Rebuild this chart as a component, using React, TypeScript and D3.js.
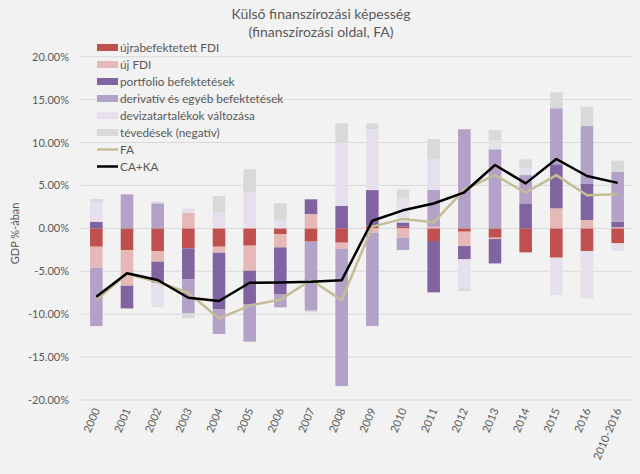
import React from "react";
import * as d3 from "d3";

const categories = ["2000","2001","2002","2003","2004","2005","2006","2007","2008","2009","2010","2011","2012","2013","2014","2015","2016","2010-2016"];

const seriesNames = [
  "újrabefektetett FDI",
  "új FDI",
  "portfolio befektetések",
  "derivatív és egyéb befektetések",
  "devizatartalékok változása",
  "tévedések (negatív)",
];
const seriesColors = ["#C0504D", "#E6B9B8", "#8064A2", "#B3A2C7", "#E6E0EC", "#D9D9D9"];

const reinvestedFDI = [-2.14, -2.53, -2.64, -2.33, -2.14, -2.02, -0.7, -1.55, -1.67, 0.3, 0.19, -1.48, -0.39, -1.09, -2.8, -3.42, -2.64, -1.75];
const newFDI = [-2.45, -4.16, -1.24, 1.82, -0.7, -2.91, -1.52, 1.67, -0.74, -0.51, -1.09, 0.19, -1.67, -0.16, 0, 2.33, 0.97, 0.12];
const portfolio = [0.77, -2.64, -2.45, -3.58, -6.56, -3.88, -5.44, 1.71, 2.6, 4.16, 0.5, -5.98, -1.55, -2.84, 2.91, 5.13, 4.2, 0.66];
const derivative = [-6.8, 3.96, 2.91, -4.0, -2.91, -4.39, -1.55, -8.04, -15.97, -10.87, -1.44, 4.28, 11.54, 9.21, 3.3, 6.53, 6.76, 5.83];
const reserves = [2.26, 0, -2.87, 0.51, 1.82, 4.2, 0.89, 0, 7.42, 7.1, 2.87, 3.61, -3.38, 1.08, 0.78, -4.35, -5.52, -0.89];
const errors = [0.38, 0, 0.19, -0.58, 1.94, 2.68, 2.03, -0.2, 2.21, 0.66, 0.97, 2.33, -0.31, 1.17, 1.05, 1.86, 2.25, 1.28];

const faLine = [-8.35, -5.3, -6.25, -7.5, -10.5, -9.0, -8.3, -6.02, -8.36, 0.2, 1.1, 0.7, 4.5, 6.2, 4.15, 6.2, 3.85, 3.96];
const cakaLine = [-7.97, -5.24, -6.02, -8.09, -8.47, -6.34, -6.3, -6.22, -6.06, 0.89, 2.1, 2.9, 4.2, 7.38, 5.24, 8.08, 6.1, 5.3];

const yTicks = [20, 15, 10, 5, 0, -5, -10, -15, -20];

const W = 640, H = 474;
const FONT = "Lato, 'Open Sans', sans-serif";
const TXT = "#595959";

export default function App() {
  const seriesValues = [reinvestedFDI, newFDI, portfolio, derivative, reserves, errors];
  const rows = categories.map((c, i) => {
    const r: any = { cat: c };
    seriesValues.forEach((arr, k) => (r["s" + k] = arr[i]));
    return r;
  });
  const keys = seriesValues.map((_, k) => "s" + k);
  const stacked = d3.stack().keys(keys).offset(d3.stackOffsetDiverging)(rows);

  const x = d3.scaleBand().domain(categories).range([81, 633]).paddingInner(0.59).paddingOuter(0.295);
  const y = d3.scaleLinear().domain([-20, 20]).range([400, 56.7]);
  const cx = (c: string) => (x(c) as number) + x.bandwidth() / 2;

  const lineGen = d3.line<number>().x((_, i) => cx(categories[i])).y((d) => y(d));

  const legendItems = [
    ...seriesNames.map((n, k) => ({ name: n, color: seriesColors[k], kind: "rect" })),
    { name: "FA", color: "#C4BD97", kind: "line" },
    { name: "CA+KA", color: "#000000", kind: "line" },
  ];

  return (
    <div style={{ position: "fixed", left: 0, top: 0 }}>
      <svg width={W} height={H} style={{ display: "block", fontFamily: FONT }}>
        <rect x={0} y={0} width={W} height={H} fill="#F2F2F2" />
        <text x={321} y={19} textAnchor="middle" fontSize={14} fill={TXT}>Külső finanszírozási képesség</text>
        <text x={321} y={37} textAnchor="middle" fontSize={14} fill={TXT}>(finanszírozási oldal, FA)</text>

        {yTicks.map((t) => (
          <g key={t}>
            <line x1={81} x2={633} y1={y(t)} y2={y(t)} stroke="#D9D9D9" strokeWidth={1} />
            <text x={69} y={y(t) + 4} textAnchor="end" fontSize={11} fill={TXT}>{t.toFixed(2) + "%"}</text>
          </g>
        ))}
        <text transform={`translate(19,${y(0) + 5}) rotate(-90)`} textAnchor="middle" fontSize={11} fill={TXT}>GDP %-ában</text>

        {stacked.map((s, k) => (
          <g key={k} fill={seriesColors[k]}>
            {s.map((d, i) => {
              const top = y(Math.max(d[0], d[1]));
              const bot = y(Math.min(d[0], d[1]));
              if (bot - top <= 0) return null;
              return <rect key={i} x={x(categories[i])} y={top} width={x.bandwidth()} height={bot - top} />;
            })}
          </g>
        ))}

        <path d={lineGen(faLine) || ""} fill="none" stroke="#C4BD97" strokeWidth={2.5} strokeLinejoin="round" />
        <path d={lineGen(cakaLine) || ""} fill="none" stroke="#000000" strokeWidth={2.5} strokeLinejoin="round" />

        {categories.map((c) => (
          <text key={c} transform={`translate(${cx(c) + 4},${410}) rotate(-67)`} textAnchor="end" fontSize={11} fill={TXT}>{c}</text>
        ))}

        {legendItems.map((it, i) => {
          const ly = 47.5 + i * 17;
          return (
            <g key={it.name}>
              {it.kind === "rect" ? (
                <rect x={97} y={ly - 3.5} width={21} height={7} fill={it.color} />
              ) : (
                <line x1={97} x2={118} y1={ly} y2={ly} stroke={it.color} strokeWidth={2.5} />
              )}
              <text x={120} y={ly + 4} fontSize={11.8} fill={TXT}>{it.name}</text>
            </g>
          );
        })}
      </svg>
    </div>
  );
}
